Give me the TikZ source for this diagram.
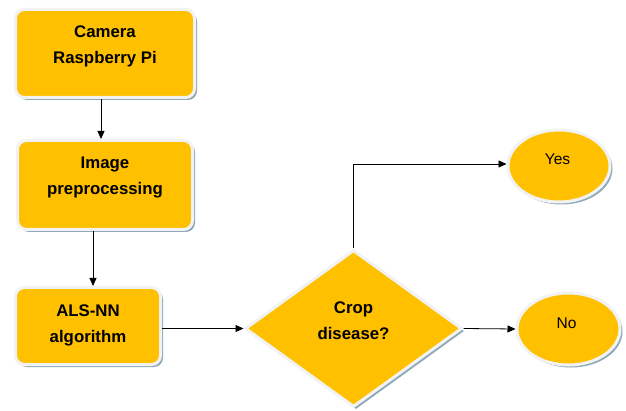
\documentclass[tikz,border=0pt]{standalone}
\usepackage{fontspec}
\setmainfont{Liberation Sans}
\usetikzlibrary{arrows.meta,shapes.geometric}

\definecolor{boxfill}{HTML}{FFC000}
\definecolor{boxrim}{HTML}{F2F2F2}
\definecolor{boxshade}{HTML}{8FA9B8}

\tikzset{
  shaded/.style={preaction={fill=boxshade,transform canvas={shift={(2.5pt,-2.5pt)}}}},
  procbox/.style={shaded,draw=boxrim,line width=3pt,fill=boxfill,rounded corners=9pt,inner sep=0pt},
  decbox/.style={shaded,diamond,draw=boxrim,line width=3pt,fill=boxfill,inner sep=0pt},
  endbox/.style={shaded,ellipse,draw=boxrim,line width=3pt,fill=boxfill,inner sep=0pt},
  boldtxt/.style={align=center,font=\bfseries\fontsize{16.8}{26}\selectfont},
  plaintxt/.style={font=\fontsize{15.5}{18}\selectfont},
  arr/.style={-{Triangle[length=8pt,width=7pt]},line width=0.8pt,black}
}

\begin{document}
\begin{tikzpicture}[x=1pt,y=-1pt]
\useasboundingbox (0,0) rectangle (626,411);

% process boxes
\node[procbox,minimum width=179pt,minimum height=88pt] (cam) at (105,53.5) {};
\node[procbox,minimum width=175pt,minimum height=89pt] (pre) at (105,185) {};
\node[procbox,minimum width=145pt,minimum height=77pt] (als) at (88,326) {};

% decision
\node[decbox,minimum width=217pt,minimum height=157pt] (dec) at (353.5,328.5) {};

% outcomes
\node[endbox,minimum width=102pt,minimum height=72pt] (yes) at (559,166) {};
\node[endbox,minimum width=103pt,minimum height=72pt] (no) at (568.5,329) {};

% labels
\node[boldtxt] (camtxt) at (105,46) {Camera\\Raspberry Pi};
\node[boldtxt] (pretxt) at (105,177.5) {Image\\preprocessing};
\node[boldtxt] (alstxt) at (88,325) {ALS-NN\\algorithm};
\node[boldtxt] (dectxt) at (353.5,321) {Crop\\disease?};
\node[plaintxt] (yestxt) at (557.5,159.5) {Yes};
\node[plaintxt] (notxt) at (566.5,323.5) {No};

% connectors
\draw[arr] ([xshift=-4pt]cam.south) -- ([xshift=-4pt]pre.north);
\draw[arr] ([xshift=-12pt]pre.south) -- ([xshift=-12pt]pre.south |- als.north);
\draw[arr] ([yshift=-2.5pt]als.east) -- (dec.west);
\draw[arr] (dec.north) |- ([yshift=2pt]yes.west);
\draw[arr] (dec.east) -- (no.west);
\end{tikzpicture}
\end{document}
